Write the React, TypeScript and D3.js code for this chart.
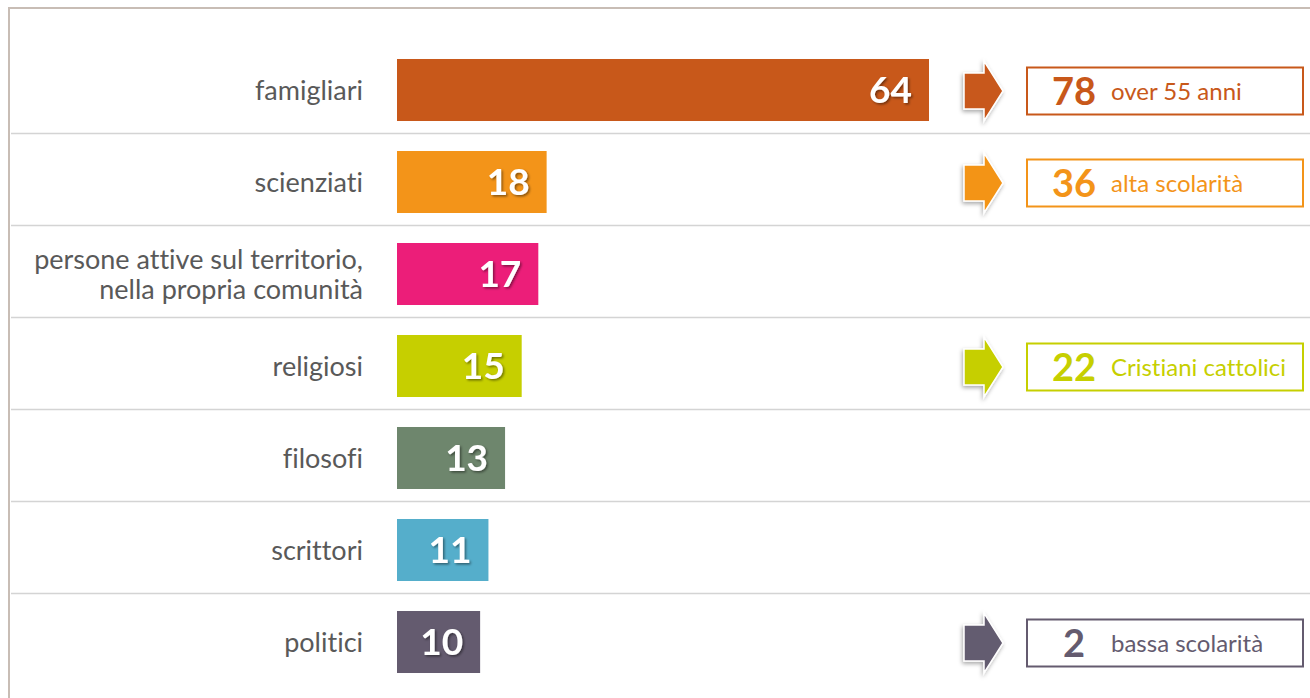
import React from "react";
import * as d3 from "d3";

const categories = [
  "famigliari",
  "scienziati",
  "persone attive sul territorio,\nnella propria comunità",
  "religiosi",
  "filosofi",
  "scrittori",
  "politici",
];
const values = [64, 18, 17, 15, 13, 11, 10];
const colors = ["#C8581A", "#F39419", "#EC1E79", "#C6CF00", "#6E866D", "#55AECB", "#645B6F"];

const noteCategories = ["famigliari", "scienziati", "religiosi", "politici"];
const noteValues = [78, 36, 22, 2];
const noteLabels = ["over 55 anni", "alta scolarità", "Cristiani cattolici", "bassa scolarità"];

const W = 1310;
const H = 698;
const FONT = "Lato, 'Open Sans', sans-serif";

export default function App() {
  const x = d3.scaleLinear().domain([0, 64]).range([397, 929]);
  const y = d3
    .scaleBand<string>()
    .domain(categories)
    .range([44, 688])
    .paddingInner(0.326)
    .paddingOuter(0.163);
  const bw = y.bandwidth();
  const colorOf = d3.scaleOrdinal<string, string>().domain(categories).range(colors);

  const arrowPath = (cy: number) => {
    const x0 = 964, xs = 984, xt = 1003;
    const sh = 18, hh = 30;
    return `M${x0},${cy - sh} L${xs},${cy - sh} L${xs},${cy - hh} L${xt},${cy} L${xs},${cy + hh} L${xs},${cy + sh} L${x0},${cy + sh} Z`;
  };

  const noLig = { fontVariantLigatures: "none" as const };

  return (
    <svg width={W} height={H} style={{ position: "absolute", left: 0, top: 0, background: "#fff" }}>
      <defs>
        <filter id="txtShadow" x="-20%" y="-20%" width="150%" height="150%">
          <feDropShadow dx="1.5" dy="1.5" stdDeviation="1" floodColor="#000" floodOpacity="0.45" />
        </filter>
        <filter id="arrShadow" x="-30%" y="-30%" width="160%" height="160%">
          <feDropShadow dx="-1" dy="2" stdDeviation="2" floodColor="#000" floodOpacity="0.35" />
        </filter>
      </defs>
      {/* frame */}
      <line x1={9} x2={W} y1={8} y2={8} stroke="#C8BDB5" strokeWidth={2} />
      <line x1={9} x2={9} y1={7} y2={H} stroke="#C8BDB5" strokeWidth={2} />

      {/* separators */}
      {categories.slice(0, -1).map((c) => {
        const yy = (y(c) ?? 0) + bw + 12.5;
        return <line key={"s" + c} x1={11} x2={W} y1={yy} y2={yy} stroke="#D4D4D4" strokeWidth={1.5} />;
      })}

      {/* bars */}
      {categories.map((c, i) => {
        const yy = y(c) ?? 0;
        const cy = yy + bw / 2;
        const lines = c.split("\n");
        return (
          <g key={c}>
            <rect x={x(0)} y={yy} width={x(values[i]) - x(0)} height={bw} fill={colorOf(c)} />
            <text
              x={x(values[i]) - 17}
              y={cy}
              dy="0.36em"
              textAnchor="end"
              fill="#fff"
              fontFamily={FONT}
              fontWeight={700}
              fontSize={37}
              filter="url(#txtShadow)"
            >
              {values[i]}
            </text>
            <text x={363} y={cy} textAnchor="end" fill="#595959" fontFamily={FONT} fontSize={27} style={noLig}>
              {lines.map((l, k) => (
                <tspan key={k} x={363} dy={k === 0 ? `${0.36 - (lines.length - 1) * 0.56}em` : "1.12em"}>
                  {l}
                </tspan>
              ))}
            </text>
          </g>
        );
      })}

      {/* notes */}
      {noteCategories.map((c, i) => {
        const cy = (y(c) ?? 0) + bw / 2 + 1;
        const col = colorOf(c);
        return (
          <g key={"n" + c}>
            <path d={arrowPath(cy)} fill={col} stroke="#fff" strokeWidth={1.5} filter="url(#arrShadow)" />
            <rect x={1027} y={cy - 23.5} width={276} height={47} fill="#fff" stroke={col} strokeWidth={2} />
            <text
              x={1074}
              y={cy}
              dy="0.36em"
              textAnchor="middle"
              fill={col}
              fontFamily={FONT}
              fontWeight={700}
              fontSize={38}
            >
              {noteValues[i]}
            </text>
            <text x={1111} y={cy} dy="0.36em" fill={col} fontFamily={FONT} fontSize={24} style={noLig}>
              {noteLabels[i]}
            </text>
          </g>
        );
      })}
    </svg>
  );
}
